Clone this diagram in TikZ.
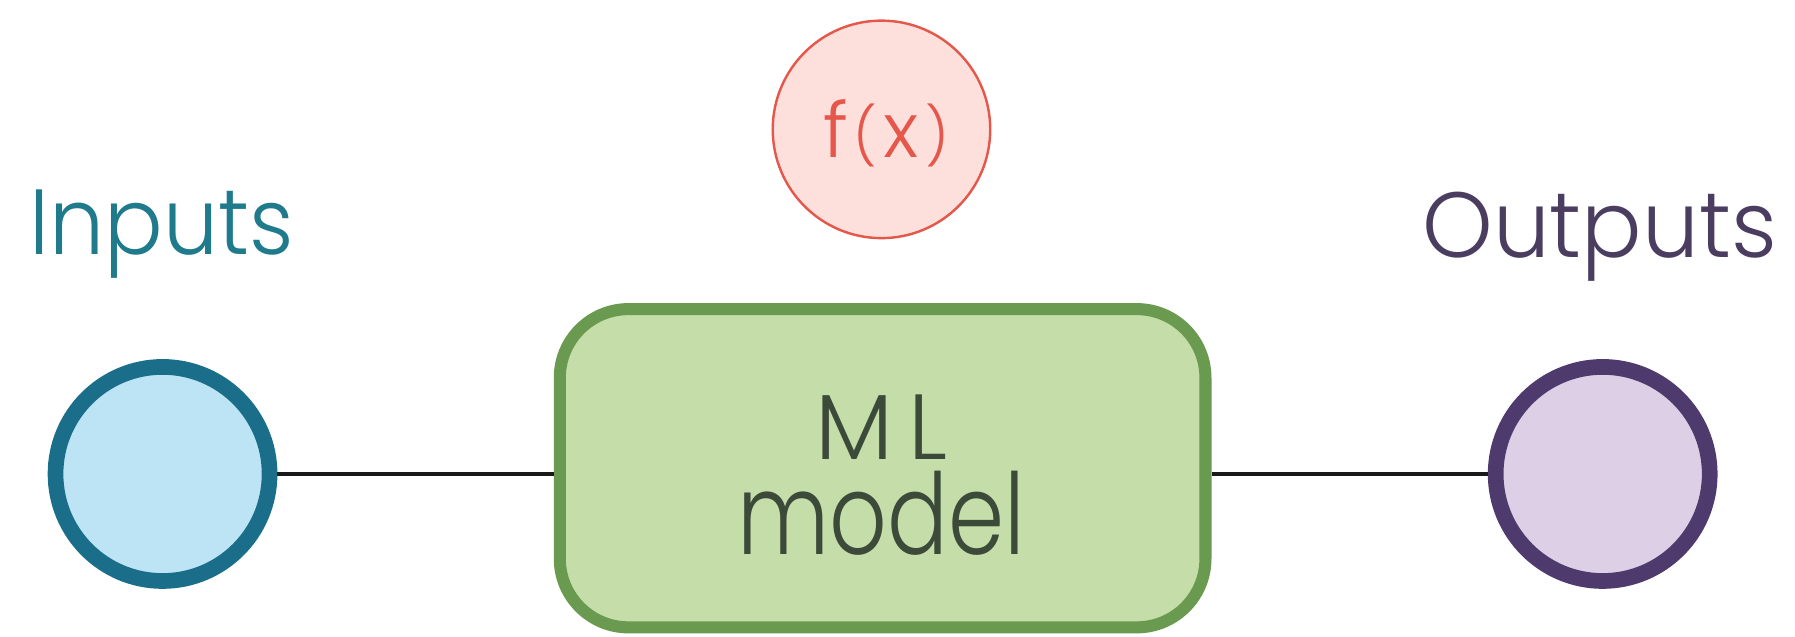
\documentclass[tikz,border=0pt]{standalone}
\usepackage{fontspec}
\IfFontExistsTF{Poppins Light}{\setmainfont{Poppins Light}}{\setmainfont{Poppins}}
\definecolor{inStroke}{HTML}{1B6E8A}
\definecolor{inFill}{HTML}{BDE4F4}
\definecolor{inText}{HTML}{1F7A8C}
\definecolor{outStroke}{HTML}{4F3A6E}
\definecolor{outFill}{HTML}{DDD0E6}
\definecolor{outText}{HTML}{4A3D60}
\definecolor{boxStroke}{HTML}{6A9A4F}
\definecolor{boxFill}{HTML}{C5DEA9}
\definecolor{boxText}{HTML}{3C4A3A}
\definecolor{fnStroke}{HTML}{E5574A}
\definecolor{fnFill}{HTML}{FDE0DC}
\newcommand{\bigch}[1]{{\fontsize{19}{20}\selectfont #1}}
\begin{document}
\begin{tikzpicture}[
  endpoint/.style={circle, minimum size=1.87cm, inner sep=0pt, line width=3.9pt},
  label text/.style={inner sep=0pt, font=\fontsize{23}{28}\selectfont},
  link/.style={line width=0.9pt, black!90}
]
\useasboundingbox (0,0) rectangle (15.68,-5.56);

% function bubble
\node[circle, minimum size=1.90cm, inner sep=0pt, draw=fnStroke, fill=fnFill, line width=0.6pt] (fn) at (7.70,-1.13) {};
\node[inner sep=0pt, anchor=base, text=fnStroke, font=\fontsize{14}{20}\selectfont] (fntext) at (7.74,-1.38)
  {\bigch{f}\kern0.1em\raisebox{0.4pt}{(}\kern0.1em\bigch{x}\kern0.12em\raisebox{0.4pt}{)}};

% model box
\node[draw=boxStroke, fill=boxFill, line width=3pt, rounded corners=0.6cm,
      minimum width=5.64cm, minimum height=2.78cm, inner sep=0pt] (box) at (7.71,-4.09) {};
\node[inner sep=0pt, align=center, text=boxText, font=\fontsize{23}{23.8pt}\selectfont] (boxlabel) at (7.70,-4.15)
  {M\kern0.16em L\\{\fontsize{28}{23.8pt}\selectfont\scalebox{0.8}[1]{model}}};

% input and output
\node[endpoint, draw=inStroke, fill=inFill] (in) at (1.42,-4.14) {};
\node[endpoint, draw=outStroke, fill=outFill] (out) at (14.00,-4.14) {};

\node[label text, anchor=base west, text=inText] (intext) at (0.25,-2.22) {\scalebox{0.94}[1]{Inputs}};
\node[label text, anchor=base east, text=outText] (outtext) at (15.53,-2.25) {\scalebox{0.97}[1]{Outputs}};

% connectors
\draw[link] (in.east) -- (in.east -| box.west);
\draw[link] (out.west -| box.east) -- (out.west);
\end{tikzpicture}
\end{document}
